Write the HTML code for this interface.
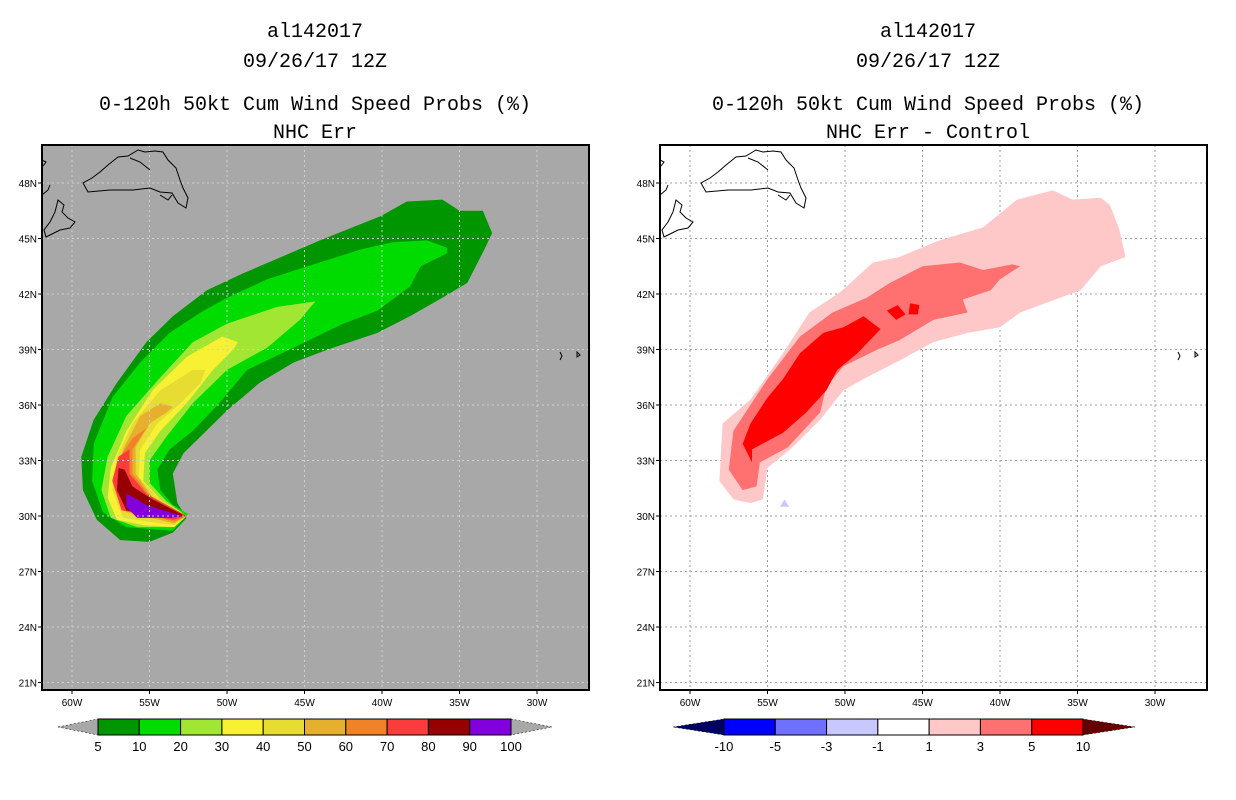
<!DOCTYPE html>
<html><head><meta charset="utf-8"><style>
html,body{margin:0;padding:0;background:#fff;}
svg{display:block;font-family:"Liberation Mono","DejaVu Sans Mono",monospace;}
</style></head><body>
<svg id="root" width="1236" height="800" viewBox="0 0 1236 800" xmlns="http://www.w3.org/2000/svg">
<g id="titles" font-size="20" text-anchor="middle" fill="#000">
<text x="315" y="37">al142017</text>
<text x="315" y="67">09/26/17 12Z</text>
<text x="315" y="110">0-120h 50kt Cum Wind Speed Probs (%)</text>
<text x="315" y="138">NHC Err</text>
<text x="928" y="37">al142017</text>
<text x="928" y="67">09/26/17 12Z</text>
<text x="928" y="110">0-120h 50kt Cum Wind Speed Probs (%)</text>
<text x="928" y="138">NHC Err - Control</text>
</g>
<g id="left"></g>
<g id="right"></g>
<g id="cbars"></g>
</svg>
<script>
// ---- data ----
const lonTicks = [-60,-55,-50,-45,-40,-35,-30];
const lonLabels = ["60W","55W","50W","45W","40W","35W","30W"];
const latTicks = [48,45,42,39,36,33,30,27,24,21];
const latLabels = ["48N","45N","42N","39N","36N","33N","30N","27N","24N","21N"];

const probLevels = ["5","10","20","30","40","50","60","70","80","90","100"];
const probColors = ["#009600","#00dc00","#a0e632","#f8f032","#e6dc32","#e6af2d","#f08228","#fa3c3c","#960000","#8200dc"];
const diffLevels = ["-10","-5","-3","-1","1","3","5","10"];
const diffColors = ["#0000ff","#7070ff","#c8c8ff","#ffffff","#ffc8c8","#ff7070","#ff0000"];

// probability contours [lon,lat]
const p5 = [[-33.5,46.5],[-32.9,45.3],[-33.4,44.4],[-34.5,42.6],[-36.1,41.8],[-38.2,40.8],[-40.3,39.9],[-43.5,39.0],[-45.7,38.3],[-47.9,37.2],[-50.0,35.7],[-51.7,34.3],[-52.8,33.4],[-53.5,32.3],[-53.2,30.7],[-52.6,29.9],[-53.5,29.1],[-55.0,28.6],[-56.9,28.7],[-58.4,29.8],[-59.3,31.4],[-59.4,33.2],[-58.6,35.2],[-57.1,37.2],[-55.2,39.4],[-53.5,40.8],[-51.3,42.2],[-49.0,43.1],[-44.0,44.9],[-40.1,46.2],[-38.4,47.0],[-36.1,47.1],[-35.0,46.5]];
const p10 = [[-35.8,44.5],[-37.1,44.9],[-39.3,44.8],[-41.4,44.4],[-44.8,43.5],[-47.4,42.8],[-50.0,41.8],[-51.7,41.0],[-53.7,39.9],[-55.6,38.3],[-57.4,36.4],[-58.6,33.9],[-58.7,31.9],[-58.0,30.2],[-56.5,29.4],[-53.5,29.2],[-52.5,30.1],[-53.5,30.6],[-54.3,31.4],[-54.5,32.5],[-53.7,33.6],[-52.2,34.6],[-50.5,36.1],[-48.7,37.9],[-45.7,39.1],[-42.5,40.4],[-40.3,41.1],[-38.2,42.4],[-37.5,43.5],[-35.8,44.2]];
const p20 = [[-44.3,41.6],[-46.8,41.3],[-50.0,40.4],[-52.2,39.4],[-54.3,37.5],[-56.5,35.4],[-57.7,33.2],[-58.1,31.4],[-57.5,29.9],[-55.8,29.4],[-53.5,29.4],[-52.6,30.0],[-53.9,30.8],[-55.0,31.8],[-55.0,33.0],[-53.9,34.3],[-52.2,36.1],[-50.0,37.9],[-47.4,39.1],[-45.3,40.6]];
const p30 = [[-49.3,39.4],[-50.3,39.7],[-52.6,38.6],[-54.8,36.8],[-56.5,34.6],[-57.5,32.6],[-57.7,31.0],[-57.1,29.8],[-55.4,29.5],[-53.4,29.4],[-52.6,30.0],[-54.3,30.9],[-55.4,31.9],[-55.3,33.4],[-54.3,34.6],[-52.6,36.1],[-50.9,37.9],[-49.6,39.0]];
const p40 = [[-51.4,37.9],[-52.2,37.9],[-54.3,36.8],[-56.1,35.0],[-57.1,33.2],[-57.4,31.4],[-56.7,29.9],[-53.4,29.5],[-52.6,30.0],[-54.5,31.0],[-55.7,32.1],[-55.6,33.6],[-54.5,35.0],[-53.0,36.1],[-51.7,37.2]];
const p50 = [[-53.5,35.9],[-54.3,36.1],[-55.6,35.4],[-56.7,33.6],[-57.1,31.8],[-56.5,30.2],[-53.4,29.6],[-52.6,30.0],[-54.8,31.0],[-55.9,32.3],[-55.9,33.7],[-55.0,35.0],[-53.9,35.6]];
const p60 = [[-55.1,34.8],[-56.1,34.2],[-56.9,33.2],[-57.2,31.8],[-56.5,30.3],[-53.4,29.7],[-52.6,30.0],[-55.0,31.1],[-56.1,32.3],[-56.1,33.6],[-55.4,34.5]];
const p70 = [[-56.3,33.6],[-57.0,33.2],[-57.4,31.9],[-56.8,30.3],[-53.5,29.8],[-52.6,30.0],[-55.2,31.2],[-56.3,32.3]];
const p80 = [[-57.0,32.6],[-57.1,31.4],[-56.5,30.3],[-53.7,29.9],[-52.7,30.0],[-54.8,30.9],[-56.1,31.6],[-56.6,32.5]];
const p90 = [[-56.5,31.2],[-56.5,30.5],[-55.8,29.9],[-53.7,29.9],[-52.8,30.0],[-53.7,30.2],[-55.2,30.6],[-55.8,30.9]];

// difference contours
const d1 = [[-32.9,46.8],[-32.3,45.5],[-31.9,44.0],[-33.5,43.5],[-34.8,42.2],[-38.7,41.0],[-40.0,40.2],[-42.1,39.9],[-44.3,39.4],[-46.5,38.4],[-48.6,37.5],[-50.1,36.8],[-51.6,35.2],[-53.4,33.7],[-55.0,32.6],[-55.3,30.9],[-56.1,30.7],[-57.2,30.9],[-58.1,31.9],[-57.9,35.0],[-56.1,36.3],[-54.0,38.8],[-52.3,41.0],[-50.3,42.1],[-48.2,43.7],[-46.5,44.0],[-43.9,44.9],[-41.1,45.6],[-38.9,47.1],[-36.6,47.6],[-35.3,47.1],[-33.5,47.2]];
const d3 = [[-38.7,43.5],[-40.0,42.8],[-40.6,42.2],[-42.4,41.7],[-42.1,41.0],[-44.3,40.6],[-46.5,39.5],[-47.9,39.0],[-50.1,38.1],[-51.2,37.0],[-51.6,35.6],[-53.7,33.7],[-55.5,32.9],[-55.7,31.6],[-56.6,31.4],[-57.5,32.5],[-57.2,34.6],[-55.0,37.4],[-52.9,39.7],[-50.8,41.0],[-48.6,41.8],[-47.1,42.6],[-45.0,43.5],[-42.6,43.7],[-41.1,43.3],[-39.2,43.6]];
const d5 = [[-48.8,40.8],[-47.7,40.1],[-49.2,38.8],[-50.5,37.9],[-51.2,36.8],[-52.5,35.6],[-54.0,34.5],[-56.0,33.6],[-56.0,32.9],[-56.6,33.9],[-56.1,35.0],[-55.0,36.4],[-54.0,37.4],[-52.9,38.8],[-51.4,39.9],[-50.1,40.2]];
const d5b = [[-47.3,41.1],[-46.6,41.4],[-46.1,40.9],[-46.7,40.6]];
const d5c = [[-45.8,41.5],[-45.2,41.4],[-45.3,40.9],[-45.9,40.9]];
const dNeg = [[-54.2,30.5],[-53.9,30.9],[-53.6,30.5]];

// ---- render ----
const NS='http://www.w3.org/2000/svg';
function mk(tag, attrs, parent){const e=document.createElementNS(NS,tag);for(const k in attrs)e.setAttribute(k,attrs[k]);parent.appendChild(e);return e;}
const X0=42,X1=589,Y0=145,Y1=690;
function xs(lon,off){return 72+(lon+60)*15.5+off;}
function ys(lat){return 516-(lat-30)*18.5;}
function pts(arr,off){return arr.map(p=>xs(p[0],off).toFixed(1)+','+ys(p[1]).toFixed(1)).join(' ');}

function panel(g, off, bg, grid){
  const clipId='clip'+off;
  const cp=mk('clipPath',{id:clipId},g);
  mk('rect',{x:X0+off,y:Y0,width:X1-X0,height:Y1-Y0},cp);
  const bgR=mk('rect',{x:X0+off,y:Y0,width:X1-X0,height:Y1-Y0,fill:bg},g);
  
  
  const inner=mk('g',{'clip-path':'url(#'+clipId+')'},g);
  return inner;
}
function drawGrid(inner,off,col){
  lonTicks.forEach((lon,i)=>{const x=xs(lon,off);const l=mk('line',{x1:x,y1:Y0,x2:x,y2:Y1,stroke:col,'stroke-dasharray':'2,3','stroke-width':1},inner);
    
    });
  latTicks.forEach(lat=>{const y=ys(lat);const l=mk('line',{x1:X0+off,y1:y,x2:X1+off,y2:y,stroke:col,'stroke-dasharray':'2,3','stroke-width':1},inner);
    
    });
}
function drawCoast(inner,off){
  const d=[
   'M83,183 L88,192 L110,190 L133,190 L150,188 L160,192 L172,193 L178,203 L186,208 L188,198 L183,188 L180,180 L176,168 L168,160 L163,152 L155,151 L145,152 L138,150 L128,156 L118,157 L108,165 L100,172 L92,178 Z',
   'M130,158 L140,162 L150,170',
   'M160,195 L168,200 L172,195',
   'M58,200 L64,205 L62,212 L68,218 L75,222 L70,228 L60,230 L52,234 L46,237 L44,230 L50,222 L55,212 Z',
   'M42,160 L46,162 L43,166',
   'M42,195 L48,190 L50,185',
   'M560,352 L562,356 L560,360 M577,352 L580,355 L577,357 Z'
  ];
  d.forEach(p=>{const e=mk('path',{d:p,fill:'none',stroke:'#000','stroke-width':1,transform:'translate('+off+',0)'},inner);
    
    });
}
function drawAxes(g,off){
  const fr=mk('rect',{x:X0+off,y:Y0,width:X1-X0,height:Y1-Y0,fill:'none',stroke:'#000','stroke-width':2},g);
  
  
  latTicks.forEach((lat,i)=>{const y=ys(lat);
    mk('line',{x1:X0+off-4,y1:y,x2:X0+off,y2:y,stroke:'#000'},g);
    const t=mk('text',{x:X0+off-5,y:y+4,'font-size':10,'text-anchor':'end','font-family':'Liberation Sans, sans-serif'},g);
    t.textContent=latLabels[i];
    
    });
  lonTicks.forEach((lon,i)=>{const x=xs(lon,off);
    mk('line',{x1:x,y1:Y1,x2:x,y2:Y1+4,stroke:'#000'},g);
    const t=mk('text',{x:x,y:Y1+16,'font-size':10,'text-anchor':'middle','font-family':'Liberation Sans, sans-serif'},g);
    t.textContent=lonLabels[i];
    
    });
}
function poly(inner,arr,off,fill,name){const p=mk('polygon',{points:pts(arr,off),fill:fill},inner);
  
  }

// left
const L=document.getElementById('left');
const li=panel(L,0,'#a8a8a8');
[p5,p10,p20,p30,p40,p50,p60,p70,p80,p90].forEach((c,i)=>poly(li,c,0,probColors[i],'prob-contour-'+probLevels[i]));
drawGrid(li,0,'#d0d0d0');
drawCoast(li,0);
drawAxes(L,0);

// right
const R=document.getElementById('right');
const OFF=618;
const ri=panel(R,OFF,'#ffffff');
drawGrid(ri,OFF,'#a0a0a0');
poly(ri,d1,OFF,diffColors[4],'diff-contour-1');
poly(ri,d3,OFF,diffColors[5],'diff-contour-3');
poly(ri,d5,OFF,diffColors[6],'diff-contour-5');
poly(ri,d5b,OFF,diffColors[6],'diff-blob-5');
poly(ri,d5c,OFF,diffColors[6],'diff-blob-5');
poly(ri,dNeg,OFF,diffColors[2],'diff-negative-blob');
drawCoast(ri,OFF);
drawAxes(R,OFF);

// colorbars
const C=document.getElementById('cbars');
function cbar(x0,x1,n,colors,labels,lc,rc,tipL,tipR,name){
  const g=mk('g',{},C);
  
  
  const w=(x1-x0)/n;
  mk('polygon',{points:`${tipL},727 ${x0},719 ${x0},735`,fill:lc,stroke:'#000','stroke-width':0.5,'stroke-dasharray':'2,2'},g);
  mk('polygon',{points:`${tipR},727 ${x1},719 ${x1},735`,fill:rc,stroke:'#000','stroke-width':0.5,'stroke-dasharray':'2,2'},g);
  for(let i=0;i<n;i++){const r=mk('rect',{x:x0+i*w,y:719,width:w,height:16,fill:colors[i],stroke:'#000','stroke-width':1},g);
    
    }
  labels.forEach((lb,i)=>{const t=mk('text',{x:x0+i*w,y:751,'font-size':13,'text-anchor':'middle','font-family':'Liberation Sans, sans-serif'},g);
    t.textContent=lb;
    
    });
}
cbar(98,511,10,probColors,probLevels,'#a8a8a8','#a8a8a8',58,552,'left-colorbar');
cbar(724,1083,7,diffColors,diffLevels,'#000060','#640000',673,1135,'right-colorbar');
</script>
</body></html>
